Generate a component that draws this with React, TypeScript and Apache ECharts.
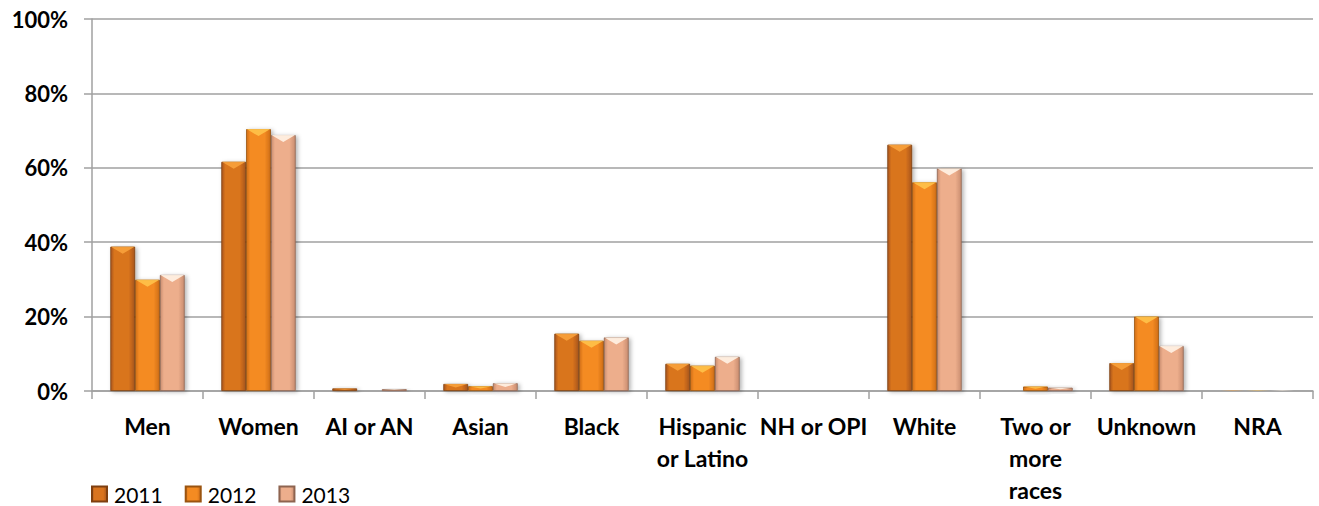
import React, { useEffect, useRef } from "react";
import * as echarts from "echarts";

const categories = [
  "Men",
  "Women",
  "AI or AN",
  "Asian",
  "Black",
  "Hispanic\nor Latino",
  "NH or OPI",
  "White",
  "Two or\nmore\nraces",
  "Unknown",
  "NRA",
];
const seriesNames = ["2011", "2012", "2013"];
const values2011 = [38.8, 61.6, 0.7, 1.9, 15.4, 7.3, 0, 66.2, 0, 7.5, 0.2];
const values2012 = [29.9, 70.4, 0, 1.3, 13.5, 6.8, 0, 56.1, 1.2, 20.0, 0.2];
const values2013 = [31.2, 68.8, 0.5, 2.1, 14.4, 9.2, 0, 59.8, 0.9, 12.1, 0.2];
const yTicks = [0, 20, 40, 60, 80, 100];

const palettes = [
  { edge: "#A8561C", mid: "#D9741F", border: "#7E3F10", bevel: "#F8A23C" },
  { edge: "#D06E18", mid: "#F48B22", border: "#9A5410", bevel: "#FFC24A" },
  { edge: "#C98D70", mid: "#EDAE8C", border: "#8E6450", bevel: "#FFF3E6" },
];

const BAR_GAP_RATIO = 0.33;

export default function App() {
  const ref = useRef<HTMLDivElement>(null);
  useEffect(() => {
    if (!ref.current) return;
    const chart = echarts.init(ref.current, null, { renderer: "svg" });
    const data = [values2011, values2012, values2013];
    const fontFamily = "Lato, 'Open Sans', sans-serif";
    const barSeries = seriesNames.map((name, i) => ({
      name,
      type: "bar",
      data: data[i],
      barGap: "0%",
      barCategoryGap: BAR_GAP_RATIO * 100 + "%",
      z: 2,
      itemStyle: {
        color: new echarts.graphic.LinearGradient(0, 0, 1, 0, [
          { offset: 0, color: palettes[i].edge },
          { offset: 0.15, color: palettes[i].mid },
          { offset: 0.75, color: palettes[i].mid },
          { offset: 1, color: palettes[i].edge },
        ]),
        borderColor: palettes[i].border,
        borderWidth: 0.8,
        shadowBlur: 4,
        shadowColor: "rgba(0,0,0,0.3)",
        shadowOffsetX: 2,
        shadowOffsetY: 1,
      },
    }));
    const bevelSeries = seriesNames.map((name, i) => ({
      name: "bevel" + name,
      type: "custom",
      z: 3,
      silent: true,
      data: data[i].map((v, idx) => [idx, v]),
      renderItem: (params: any, api: any) => {
        const idx = api.value(0);
        const v = api.value(1);
        if (!v) return null;
        const base = api.coord([idx, 0]);
        const top = api.coord([idx, v]);
        const catW = api.size([1, 0])[0];
        const bw = (catW * (1 - BAR_GAP_RATIO)) / 3;
        const left = base[0] - 1.5 * bw + i * bw;
        const right = left + bw;
        const cx = left + bw / 2;
        const hgt = base[1] - top[1];
        const h = Math.min(7, hgt / 2);
        return {
          type: "polygon",
          shape: {
            points: [
              [left + 0.5, top[1]],
              [right - 0.5, top[1]],
              [cx, top[1] + h],
            ],
          },
          style: { fill: palettes[i].bevel, opacity: 0.9 },
        };
      },
    }));
    chart.setOption({
      animation: false,
      textStyle: { fontFamily },
      grid: { left: 92, right: 6, top: 19, bottom: 111, containLabel: false },
      legend: {
        left: 86,
        top: 478,
        icon: "rect",
        itemWidth: 15,
        itemHeight: 15,
        itemGap: 22,
        textStyle: { fontSize: 21, color: "#000", fontFamily, lineHeight: 22, padding: [0, 0, 0, 2] },
        data: seriesNames,
      },
      xAxis: {
        type: "category",
        data: categories,
        axisLine: { lineStyle: { color: "#A0A0A0", width: 1.5 } },
        axisTick: { show: true, length: 8, lineStyle: { color: "#A0A0A0", width: 1.5 } },
        axisLabel: {
          interval: 0,
          fontSize: 23,
          fontWeight: "bold",
          color: "#000",
          lineHeight: 32,
          margin: 19,
          fontFamily,
        },
      },
      yAxis: {
        type: "value",
        min: 0,
        max: 100,
        interval: 20,
        axisLine: { show: true, lineStyle: { color: "#A0A0A0", width: 1.5 } },
        axisTick: { show: true, length: 8, lineStyle: { color: "#A0A0A0", width: 1.5 } },
        splitLine: { lineStyle: { color: "#A0A0A0", width: 1.5 } },
        axisLabel: {
          formatter: (v: number) => (yTicks.includes(v) ? v + "%" : ""),
          fontSize: 22,
          fontWeight: "bold",
          color: "#000",
          margin: 24,
          fontFamily,
        },
      },
      series: [...barSeries, ...bevelSeries],
    });
    return () => chart.dispose();
  }, []);
  return <div ref={ref} style={{ width: 1319, height: 506, position: "absolute", left: 0, top: 0 }} />;
}
